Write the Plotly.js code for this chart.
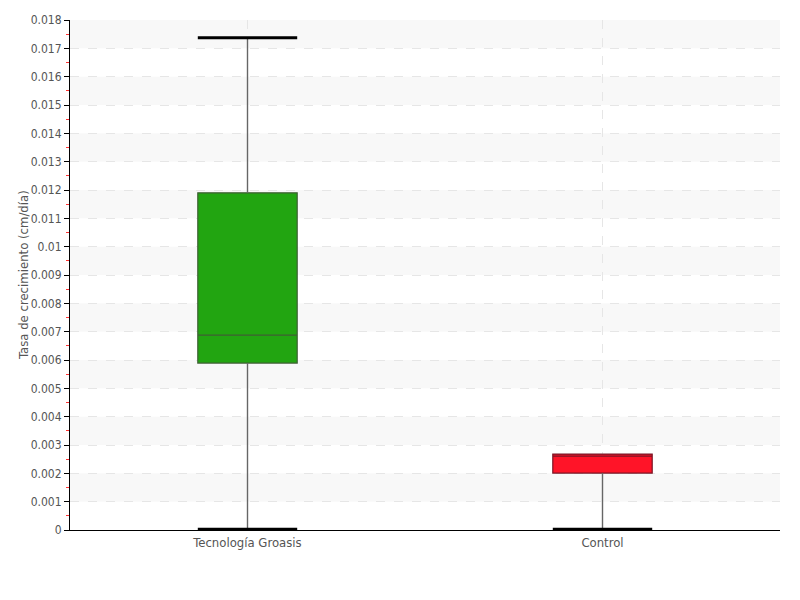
<!DOCTYPE html>
<html>
<head>
<meta charset="utf-8">
<script src="https://cdn.plot.ly/plotly-3.0.1.min.js"></script>
<style>html,body{margin:0;padding:0;background:#fff;}#chart{width:800px;height:600px;}</style>
</head>
<body>
<div id="chart"></div>
<script>
const categories = ["Tecnología Groasis", "Control"];
const minVals = [0.00003, 0.00003];
const q1Vals = [0.00589, 0.00201];
const medianVals = [0.00688, 0.00261];
const q3Vals = [0.0119, 0.00268];
const maxVals = [0.01737, 0.00268];
const fillColors = ["#22a511", "#ff1428"];
const lineColors = ["#3f5f35", "#7a1424"];
const yTitle = "Tasa de crecimiento (cm/día)";

const yMax = 0.018, yStep = 0.001;
const boxW = 0.28;
const FONT = "'Liberation Sans Narrow', 'DejaVu Sans Condensed', sans-serif";

const traces = [];
categories.forEach((c, i) => {
  traces.push({
    type: 'scatter', mode: 'lines', hoverinfo: 'skip', showlegend: false,
    x: [i, i, null, i, i],
    y: [minVals[i], q1Vals[i], null, q3Vals[i], maxVals[i]],
    line: {color: '#666', width: 1.4}
  });
});
categories.forEach((c, i) => {
  traces.push({
    type: 'box', name: c, showlegend: false,
    x: [i], q1: [q1Vals[i]], median: [medianVals[i]], q3: [q3Vals[i]],
    lowerfence: [q1Vals[i]], upperfence: [q3Vals[i]],
    width: boxW, whiskerwidth: 0,
    fillcolor: fillColors[i],
    line: {color: lineColors[i], width: 1.2}
  });
});
categories.forEach((c, i) => {
  const caps = maxVals[i] > q3Vals[i] ? [minVals[i], maxVals[i]] : [minVals[i]];
  const xs = [], ys = [];
  caps.forEach(v => { xs.push(i - boxW/2, i + boxW/2, null); ys.push(v, v, null); });
  traces.push({
    type: 'scatter', mode: 'lines', hoverinfo: 'skip', showlegend: false,
    x: xs, y: ys, line: {color: '#000', width: 3}
  });
});

const shapes = [];
for (let k = 1; k * yStep < yMax + 1e-12; k += 2) {
  shapes.push({type: 'rect', xref: 'paper', yref: 'y', x0: 0, x1: 1,
    y0: k * yStep, y1: (k + 1) * yStep, fillcolor: '#f8f8f8', line: {width: 0}, layer: 'below'});
}

const layout = {
  width: 800, height: 600,
  margin: {l: 70, r: 20, t: 20, b: 70},
  paper_bgcolor: '#fff', plot_bgcolor: '#fff',
  font: {family: FONT, size: 13, color: '#555'},
  showlegend: false,
  shapes: shapes,
  annotations: [{
    text: yTitle, xref: 'paper', yref: 'paper', x: 0, y: 0.5,
    xshift: -47, textangle: -90, showarrow: false,
    xanchor: 'center', yanchor: 'middle',
    font: {family: FONT, size: 13, color: '#555'}
  }],
  xaxis: {
    range: [-0.5, 1.5], tickvals: [0, 1], ticktext: categories,
    showgrid: true, gridcolor: '#e6e6e6', griddash: 'dash', gridwidth: 1,
    zeroline: false, showline: true, linecolor: '#000', linewidth: 1,
    ticks: '', ticklen: 0, tickfont: {family: FONT, size: 13, color: '#555'}
  },
  yaxis: {
    range: [0, yMax], dtick: yStep, tick0: 0,
    showgrid: true, gridcolor: '#e6e6e6', griddash: 'dash', gridwidth: 1,
    zeroline: false, showline: true, linecolor: '#000', linewidth: 1,
    ticks: 'outside', ticklen: 5, tickcolor: '#000', tickwidth: 1,
    minor: {dtick: yStep / 2, ticks: 'outside', ticklen: 3, tickcolor: '#ff3333', showgrid: false},
    tickformat: '~g', exponentformat: 'none',
    tickfont: {family: FONT, size: 12, color: '#555'}
  }
};

Plotly.newPlot('chart', traces, layout, {displayModeBar: false, staticPlot: true});
</script>
</body>
</html>
